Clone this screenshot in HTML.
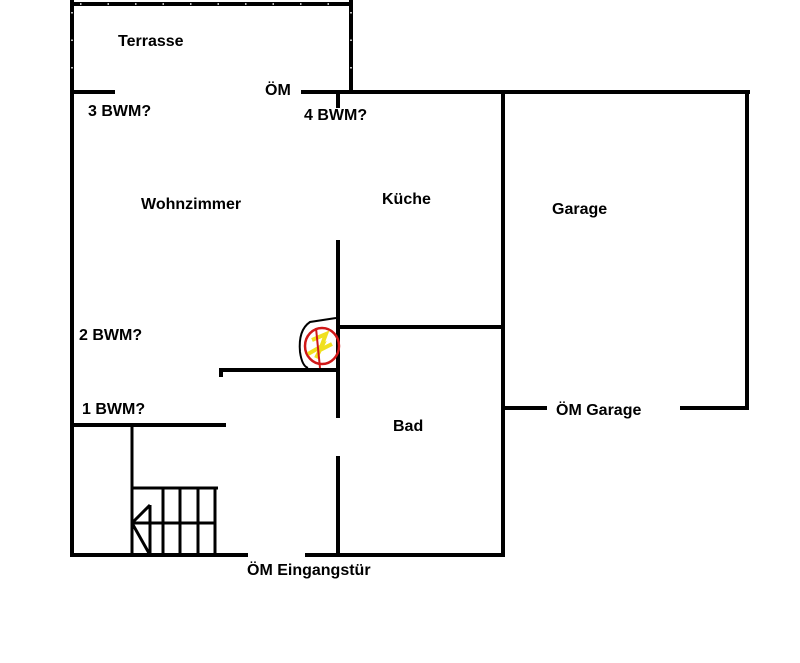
<!DOCTYPE html>
<html><head><style>
body{margin:0;background:#fff;width:800px;height:663px;overflow:hidden;font-family:"Liberation Sans",sans-serif}
.t{position:absolute;font-weight:bold;font-size:16px;color:#000;white-space:nowrap}
svg{position:absolute;left:0;top:0}
</style></head><body>
<svg width="800" height="663">
<g stroke="#000" stroke-width="4" fill="none" stroke-linecap="square">
<line x1="72" y1="0" x2="72" y2="555"/>
<line x1="72" y1="4" x2="351" y2="4"/>
<line x1="351" y1="0" x2="351" y2="92"/>
<line x1="72" y1="92" x2="113" y2="92"/>
<line x1="303" y1="92" x2="748" y2="92"/>
<line x1="338" y1="92" x2="338" y2="106"/>
<line x1="503" y1="92" x2="503" y2="555"/>
<line x1="747" y1="92" x2="747" y2="408"/>
<line x1="503" y1="408" x2="545" y2="408"/>
<line x1="682" y1="408" x2="747" y2="408"/>
<line x1="338" y1="242" x2="338" y2="416"/>
<line x1="338" y1="458" x2="338" y2="555"/>
<line x1="338" y1="327" x2="503" y2="327"/>
<line x1="221" y1="370" x2="338" y2="370"/>
<line x1="221" y1="370" x2="221" y2="375"/>
<line x1="72" y1="425" x2="224" y2="425"/>
<line x1="72" y1="555" x2="246" y2="555"/>
<line x1="307" y1="555" x2="503" y2="555"/>
</g>
<g stroke="#fff" stroke-width="1.5" stroke-dasharray="1.5 26">
<line x1="80" y1="4" x2="351" y2="4"/>
<line x1="72" y1="12" x2="72" y2="90"/>
<line x1="351" y1="12" x2="351" y2="90"/>
</g>
<g stroke="#000" stroke-width="3" fill="none">
<line x1="132" y1="425" x2="132" y2="555"/>
<line x1="132" y1="488" x2="218" y2="488"/>
<line x1="132" y1="523" x2="215" y2="523"/>
<line x1="150" y1="505" x2="150" y2="555"/>
<line x1="163" y1="488" x2="163" y2="555"/>
<line x1="180" y1="488" x2="180" y2="555"/>
<line x1="198" y1="488" x2="198" y2="555"/>
<line x1="215" y1="488" x2="215" y2="555"/>
<line x1="132" y1="523" x2="150" y2="505"/>
<line x1="132" y1="523" x2="150" y2="555"/>
</g>
<path d="M336 318 L310 322 Q298 330 300 352 Q302 366 308 368" stroke="#000" stroke-width="2" fill="none"/>
<ellipse cx="322" cy="346" rx="17" ry="18" stroke="#d01818" stroke-width="2.5" fill="none"/>
<path d="M312 340 L326 334 L320 350 L332 344 M308 354 L322 346 L316 358" stroke="#f0e020" stroke-width="4" fill="none"/>
<path d="M316 328 L320 368" stroke="#d01818" stroke-width="2"/>
</svg>
<div class="t" style="left:118px;top:33px">Terrasse</div>
<div class="t" style="left:265px;top:82px">ÖM</div>
<div class="t" style="left:88px;top:103px">3 BWM?</div>
<div class="t" style="left:304px;top:107px">4 BWM?</div>
<div class="t" style="left:141px;top:196px">Wohnzimmer</div>
<div class="t" style="left:382px;top:191px">Küche</div>
<div class="t" style="left:552px;top:201px">Garage</div>
<div class="t" style="left:79px;top:327px">2 BWM?</div>
<div class="t" style="left:82px;top:401px">1 BWM?</div>
<div class="t" style="left:556px;top:402px">ÖM Garage</div>
<div class="t" style="left:393px;top:418px">Bad</div>
<div class="t" style="left:247px;top:562px">ÖM Eingangstür</div>
</body></html>
